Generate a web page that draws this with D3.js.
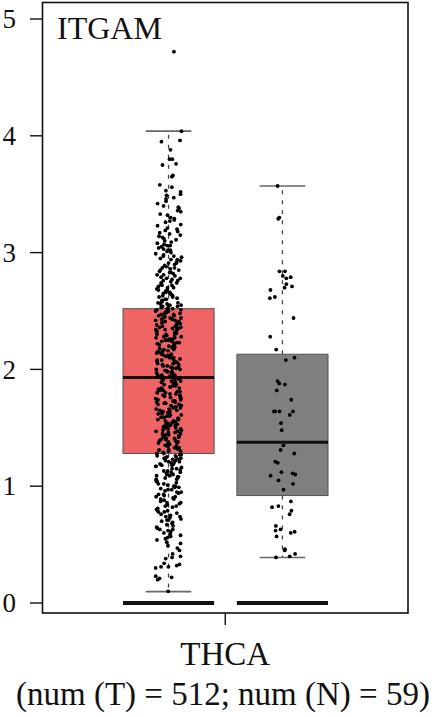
<!DOCTYPE html>
<html>
<head>
<meta charset="utf-8">
<script src="https://cdn.jsdelivr.net/npm/d3@7"></script>
<style>
  html, body { margin: 0; padding: 0; background: #fff; }
  svg { display: block; }
  text { font-family: "Liberation Serif", "DejaVu Serif", serif; fill: #111; }
</style>
</head>
<body>
<div id="chart"></div>
<script>
const gene = "ITGAM";
const category = "THCA";
const subtitle = "(num (T) = 512; num (N) = 59)";
const groups = ["Tumor", "Normal"];
const yTicks = [0, 1, 2, 3, 4, 5];

// box statistics (log2(TPM+1))
const lowerWhisker = [0.097, 0.39];
const q1 = [1.28, 0.92];
const median = [1.93, 1.376];
const q3 = [2.52, 2.13];
const upperWhisker = [4.04, 3.57];

const tumorValues = [
  0.10,
  0.20,0.21,0.22,0.23,
  0.30,0.31,0.31,0.32,0.33,0.34,0.38,0.39,
  0.40,0.42,0.45,0.47,0.49,
  0.51,0.52,0.54,0.55,0.56,0.57,0.58,0.59,
  0.60,0.61,0.62,0.63,0.63,0.64,0.65,0.66,0.67,0.68,0.69,
  0.70,0.71,0.71,0.72,0.73,0.74,0.74,0.75,0.76,0.77,0.78,0.78,0.79,
  0.80,0.80,0.81,0.82,0.83,0.83,0.84,0.85,0.86,0.86,0.87,0.88,0.89,0.89,
  0.90,0.91,0.91,0.92,0.93,0.93,0.94,0.95,0.95,0.96,0.97,0.97,0.98,0.99,0.99,
  1.00,1.00,1.01,1.02,1.02,1.03,1.04,1.04,1.05,1.06,1.06,1.07,1.08,1.08,1.09,1.09,
  1.10,1.10,1.11,1.12,1.12,1.13,1.13,1.14,1.15,1.15,1.16,1.17,1.17,1.18,1.18,1.19,1.19,
  1.20,1.20,1.21,1.21,1.22,1.22,1.23,1.23,1.24,1.24,1.25,1.25,1.26,1.26,1.27,1.27,1.28,1.28,1.29,
  1.30,1.30,1.31,1.31,1.32,1.32,1.33,1.33,1.34,1.34,1.35,1.35,1.36,1.36,1.37,1.37,1.38,1.38,1.39,1.39,
  1.40,1.40,1.41,1.41,1.42,1.42,1.43,1.43,1.44,1.44,1.45,1.45,1.46,1.46,1.47,1.47,1.48,1.48,1.49,1.49,
  1.50,1.50,1.51,1.51,1.52,1.52,1.53,1.53,1.54,1.54,1.55,1.55,1.56,1.56,1.57,1.57,1.58,1.58,1.59,1.59,
  1.60,1.60,1.61,1.61,1.62,1.62,1.63,1.63,1.64,1.64,1.65,1.65,1.66,1.66,1.67,1.67,1.68,1.68,1.69,1.69,
  1.70,1.70,1.71,1.71,1.72,1.72,1.73,1.73,1.74,1.74,1.75,1.75,1.76,1.76,1.77,1.77,1.78,1.78,1.79,1.79,
  1.80,1.80,1.81,1.81,1.82,1.82,1.83,1.83,1.84,1.84,1.85,1.85,1.86,1.86,1.87,1.87,1.88,1.88,1.89,1.89,
  1.90,1.90,1.91,1.91,1.92,1.92,1.93,1.93,1.93,1.94,1.94,1.95,1.95,1.95,1.96,1.96,1.97,1.97,1.98,1.98,1.99,1.99,
  2.00,2.00,2.01,2.01,2.02,2.02,2.03,2.03,2.04,2.04,2.05,2.05,2.05,2.06,2.06,2.07,2.07,2.08,2.08,2.09,2.09,
  2.10,2.10,2.11,2.11,2.12,2.12,2.13,2.13,2.14,2.14,2.15,2.15,2.15,2.16,2.16,2.17,2.17,2.18,2.18,2.19,2.19,
  2.20,2.20,2.21,2.21,2.22,2.22,2.23,2.23,2.24,2.24,2.25,2.25,2.25,2.26,2.26,2.27,2.27,2.28,2.28,2.29,2.29,
  2.30,2.30,2.31,2.31,2.32,2.32,2.33,2.33,2.34,2.34,2.35,2.35,2.35,2.36,2.36,2.37,2.37,2.38,2.38,2.39,2.39,
  2.40,2.40,2.41,2.41,2.42,2.42,2.43,2.43,2.44,2.44,2.45,2.45,2.46,2.46,2.47,2.47,2.48,2.48,2.49,2.49,
  2.50,2.50,2.51,2.51,2.52,2.52,2.53,2.53,2.54,2.54,2.55,2.55,2.56,2.56,2.57,2.57,2.58,2.59,
  2.60,2.60,2.61,2.62,2.62,2.63,2.63,2.64,2.65,2.65,2.66,2.66,2.67,2.68,2.68,2.69,
  2.70,2.70,2.71,2.72,2.72,2.73,2.74,2.74,2.75,2.76,2.76,2.77,2.78,2.78,2.79,
  2.80,2.81,2.81,2.82,2.83,2.83,2.84,2.85,2.85,2.86,2.87,2.87,2.88,2.89,
  2.90,2.91,2.91,2.92,2.93,2.94,2.94,2.95,2.96,2.97,2.97,2.98,2.99,
  3.00,3.01,3.02,3.02,3.03,3.04,3.05,3.06,3.06,3.07,3.08,3.09,
  3.10,3.11,3.12,3.13,3.14,3.15,3.16,3.17,3.18,3.19,
  3.20,3.21,3.23,3.24,3.26,3.27,3.28,3.29,
  3.30,3.32,3.33,3.35,3.36,3.38,3.39,
  3.40,3.42,3.44,3.46,3.47,3.49,
  3.50,3.52,3.53,3.56,3.58,
  3.65,3.66,3.75,3.76,3.80,3.80,3.88,3.95,3.96,4.04,
  4.72
];

const normalValues = [
  3.57, 3.30, 3.29, 2.84, 2.84, 2.80, 2.78, 2.79, 2.73, 2.71, 2.70, 2.68, 2.62, 2.61,
  2.44, 2.28, 2.17, 2.10, 2.08, 1.90, 1.88, 1.87, 1.82, 1.74, 1.64, 1.64, 1.64, 1.64,
  1.61, 1.54, 1.48, 1.35, 1.31, 1.28, 1.21, 1.20, 1.12, 1.11, 1.10, 1.09, 1.05, 1.02,
  0.97, 0.87, 0.83, 0.82, 0.79, 0.76, 0.66, 0.63, 0.62, 0.61, 0.60, 0.57, 0.46, 0.45,
  0.42, 0.39, 0.40
];

const boxFill = ["#ef6565", "#7f7f7f"];

const width = 435, height = 717;
const frame = {left: 42.5, right: 408, top: 2.5, bottom: 613};

const svg = d3.select("#chart").append("svg")
  .attr("width", width)
  .attr("height", height);

const y = d3.scaleLinear().domain([0, 5]).range([603, 19]);
const x = d3.scaleBand().domain(groups).range([123, 328]).paddingInner(0.2);
const bw = x.bandwidth();

// frame
svg.append("rect")
  .attr("x", frame.left).attr("y", frame.top)
  .attr("width", frame.right - frame.left)
  .attr("height", frame.bottom - frame.top)
  .attr("fill", "none").attr("stroke", "#111").attr("stroke-width", 1.6);

// y axis ticks
const yAxis = svg.append("g");
yAxis.selectAll("line").data(yTicks).join("line")
  .attr("x1", 30).attr("x2", frame.left)
  .attr("y1", d => y(d)).attr("y2", d => y(d))
  .attr("stroke", "#111").attr("stroke-width", 1.4);
yAxis.selectAll("text").data(yTicks).join("text")
  .attr("x", 16).attr("y", d => y(d))
  .attr("dy", "0.34em")
  .attr("text-anchor", "end")
  .style("font-size", "27px")
  .text(d => d);

// x tick
svg.append("line")
  .attr("x1", (frame.left + frame.right) / 2).attr("x2", (frame.left + frame.right) / 2)
  .attr("y1", frame.bottom).attr("y2", frame.bottom + 12)
  .attr("stroke", "#111").attr("stroke-width", 1.4);

const boxes = svg.append("g");
groups.forEach((g, i) => {
  const x0 = x(g), cx = x0 + bw / 2;
  // whiskers
  boxes.append("line")
    .attr("x1", cx).attr("x2", cx)
    .attr("y1", y(q3[i])).attr("y2", y(upperWhisker[i]))
    .attr("stroke", "#444").attr("stroke-width", 1.3).attr("stroke-dasharray", "4,6");
  boxes.append("line")
    .attr("x1", cx).attr("x2", cx)
    .attr("y1", y(q1[i])).attr("y2", y(lowerWhisker[i]))
    .attr("stroke", "#444").attr("stroke-width", 1.3).attr("stroke-dasharray", "4,6");
  [upperWhisker[i], lowerWhisker[i]].forEach(v => {
    boxes.append("line")
      .attr("x1", cx - bw / 4).attr("x2", cx + bw / 4)
      .attr("y1", y(v)).attr("y2", y(v))
      .attr("stroke", "#666").attr("stroke-width", 1.6);
  });
  // box
  boxes.append("rect")
    .attr("x", x0).attr("y", y(q3[i]))
    .attr("width", bw).attr("height", y(q1[i]) - y(q3[i]))
    .attr("fill", boxFill[i]).attr("stroke", "#555").attr("stroke-width", 1);
  boxes.append("line")
    .attr("x1", x0).attr("x2", x0 + bw)
    .attr("y1", y(median[i])).attr("y2", y(median[i]))
    .attr("stroke", "#111").attr("stroke-width", 3);
  // baseline bar at zero
  boxes.append("line")
    .attr("x1", x0).attr("x2", x0 + bw)
    .attr("y1", y(0)).attr("y2", y(0))
    .attr("stroke", "#111").attr("stroke-width", 4);
});

// jittered points (horizontal jitter is layout only)
const jitter = d3.randomUniform.source(d3.randomLcg(0.37))(-13, 13);
const points = svg.append("g");
[tumorValues, normalValues].forEach((vals, i) => {
  const cx = x(groups[i]) + bw / 2;
  points.selectAll(null).data(vals).join("circle")
    .attr("cx", () => cx + jitter())
    .attr("cy", d => y(d))
    .attr("r", 1.9)
    .attr("fill", "#000");
});

// labels
svg.append("text")
  .attr("x", 57).attr("y", 39)
  .style("font-size", "32px")
  .text(gene);

svg.append("text")
  .attr("x", (frame.left + frame.right) / 2).attr("y", 665)
  .attr("text-anchor", "middle")
  .style("font-size", "33px")
  .text(category);

svg.append("text")
  .attr("x", 223).attr("y", 705)
  .attr("text-anchor", "middle")
  .style("font-size", "33px")
  .text(subtitle);
</script>
</body>
</html>
